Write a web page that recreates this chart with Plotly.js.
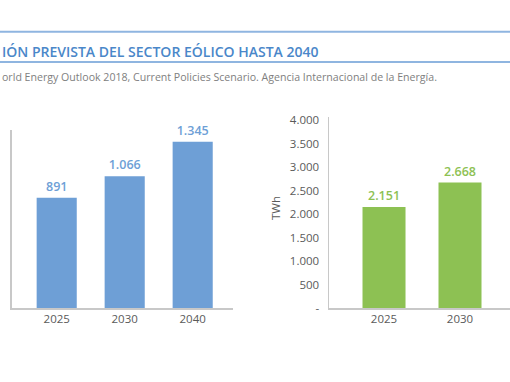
<!DOCTYPE html>
<html>
<head>
<meta charset="utf-8">
<script src="https://cdn.plot.ly/plotly-3.0.1.min.js"></script>
<style>html,body{margin:0;padding:0;background:#fff;}#chart{width:510px;height:382px;}</style>
</head>
<body>
<div id="chart"></div>
<script>
// Data
var titleText = "IÓN PREVISTA DEL SECTOR EÓLICO HASTA 2040";
var subtitleText = "orld Energy Outlook 2018, Current Policies Scenario. Agencia Internacional de la Energía.";
var leftYears = ["2025", "2030", "2040"];
var leftValues = [891, 1066, 1345];
var rightYears = ["2025", "2030"];
var rightValues = [2151, 2668];
var rightTickVals = [0, 500, 1000, 1500, 2000, 2500, 3000, 3500, 4000];
var rightTickText = ["-", "500", "1.000", "1.500", "2.000", "2.500", "3.000", "3.500", "4.000"];
var rightAxisTitle = "TWh";

var W = 510, H = 382;
function px(x){ return x / W; }
function py(y){ return (H - y) / H; }

var blue = "#6e9fd6", green = "#8dc153", gray = "#5a5a5a", axisGray = "#c8c8c8";
var FONT = "Open Sans, sans-serif";

var traces = [
  {
    type: "bar", x: leftYears, y: leftValues, xaxis: "x", yaxis: "y",
    marker: {color: blue}, width: 0.59,
    texttemplate: "%{y:,}", textposition: "outside", cliponaxis: false,
    textfont: {family: FONT, size: 12.5, color: blue, weight: 600},
    hoverinfo: "skip"
  },
  {
    type: "bar", x: rightYears, y: rightValues, xaxis: "x2", yaxis: "y2",
    marker: {color: green}, width: 0.566,
    texttemplate: "%{y:,}", textposition: "outside", cliponaxis: false,
    textfont: {family: FONT, size: 12.5, color: green, weight: 600},
    hoverinfo: "skip"
  }
];

var layout = {
  width: W, height: H,
  margin: {l: 0, r: 0, t: 0, b: 0},
  paper_bgcolor: "#fff", plot_bgcolor: "#fff",
  separators: ",.",
  showlegend: false,
  font: {family: FONT, size: 10, color: gray},
  xaxis: {
    domain: [px(11.7), px(233)], anchor: "y",
    type: "category", range: [-0.662, 2.593],
    showline: true, linecolor: axisGray, linewidth: 1.5,
    showgrid: false, zeroline: false, ticks: "",
    tickfont: {family: FONT, size: 11.5, color: gray}
  },
  yaxis: {
    domain: [py(308), py(130)], anchor: "x",
    range: [0, 1439], showline: true, linecolor: axisGray, linewidth: 1.5,
    showgrid: false, zeroline: false, showticklabels: false, ticks: ""
  },
  xaxis2: {
    domain: [px(329), 1], anchor: "y2",
    type: "category", range: [-0.724, 1.658],
    showline: true, linecolor: axisGray, linewidth: 1.5,
    showgrid: false, zeroline: false, ticks: "",
    tickfont: {family: FONT, size: 11.5, color: gray}
  },
  yaxis2: {
    domain: [py(308), py(116.7)], anchor: "x2",
    range: [0, 4070], showline: true, linecolor: axisGray, linewidth: 1.5,
    showgrid: false, zeroline: false, ticks: "",
    tickmode: "array", tickvals: rightTickVals, ticktext: rightTickText,
    ticklabelstandoff: 6,
    tickfont: {family: FONT, size: 11.5, color: gray}
  },
  shapes: [
    {type: "line", xref: "paper", yref: "paper", x0: 0, x1: 1, y0: py(31.7), y1: py(31.7),
     line: {color: "#8fb5e0", width: 2}},
    {type: "line", xref: "paper", yref: "paper", x0: 0, x1: 1, y0: py(62), y1: py(62),
     line: {color: "#8fb5e0", width: 2}}
  ],
  annotations: [
    {text: titleText, xref: "paper", yref: "paper", x: 0, y: py(51.7),
     xanchor: "left", yanchor: "middle", showarrow: false,
     font: {family: FONT, size: 14, color: "#4a87c9", weight: 600}},
    {text: subtitleText, xref: "paper", yref: "paper", x: 0, y: py(77),
     xanchor: "left", yanchor: "middle", showarrow: false,
     font: {family: FONT, size: 10.6, color: "#808080"}},
    {text: rightAxisTitle, xref: "paper", yref: "paper", x: px(275), y: py(208),
     xanchor: "center", yanchor: "middle", textangle: -90, showarrow: false,
     font: {family: FONT, size: 11.5, color: gray}}
  ]
};

Plotly.newPlot("chart", traces, layout, {displayModeBar: false, staticPlot: true});
</script>
</body>
</html>
